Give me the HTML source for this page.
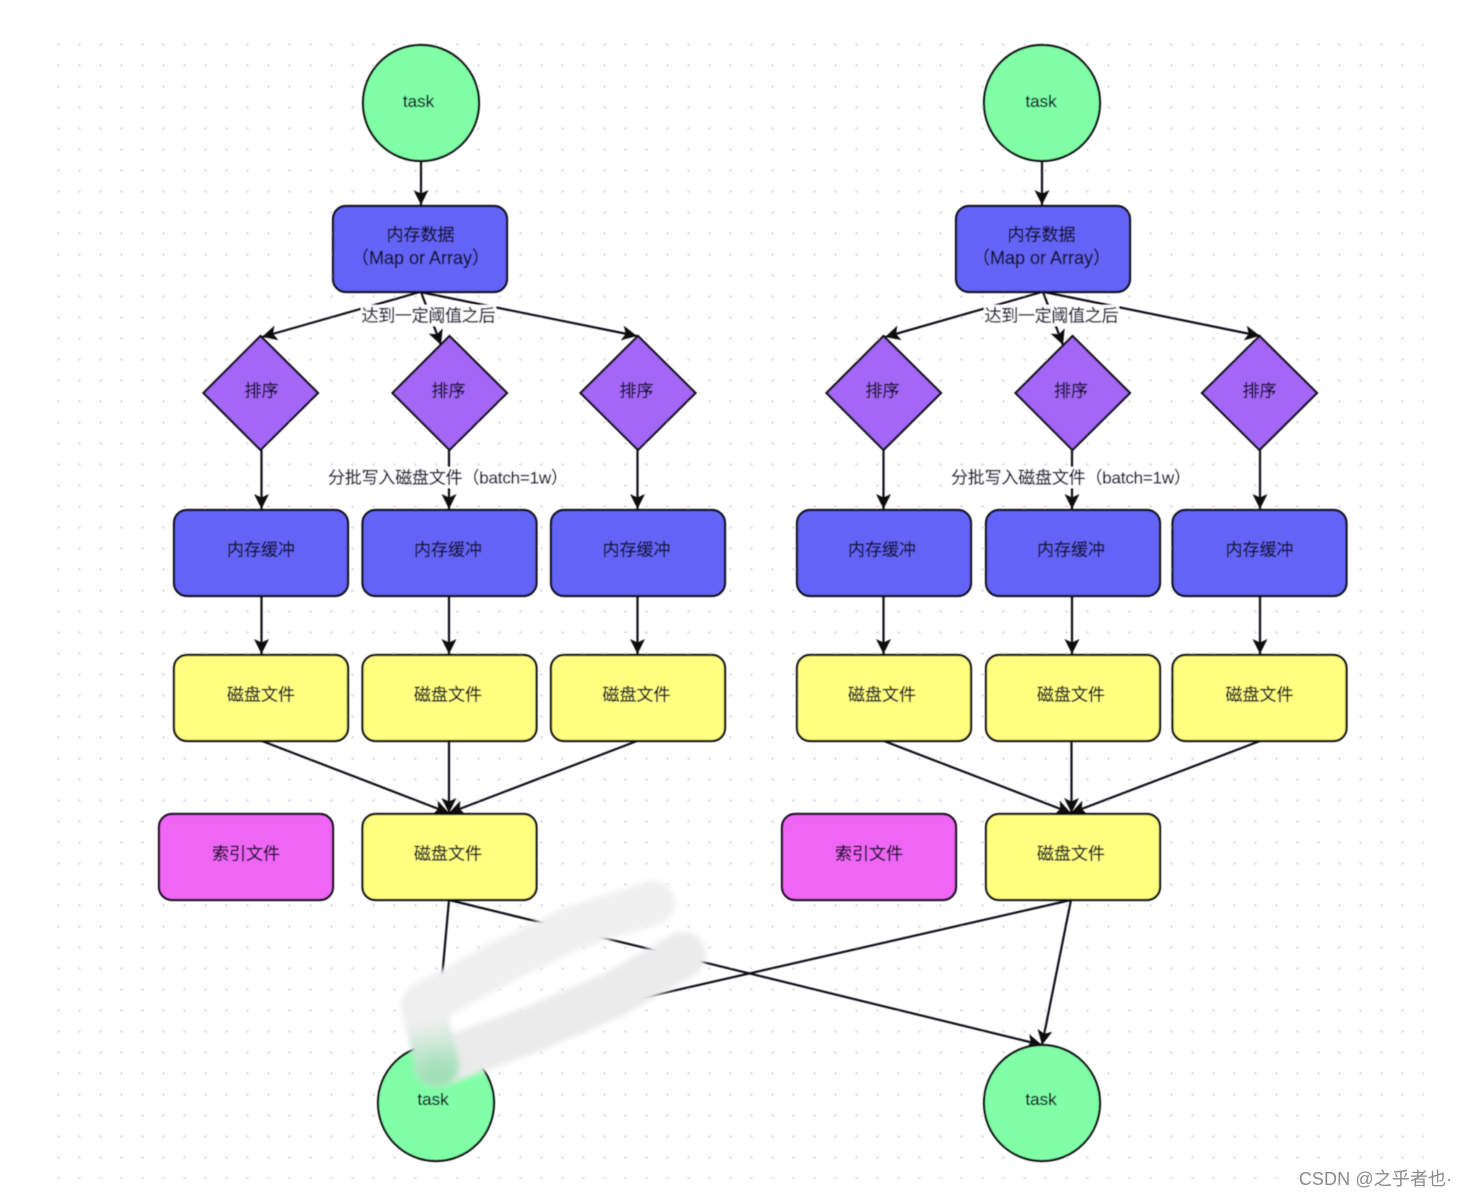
<!DOCTYPE html>
<html><head><meta charset="utf-8">
<style>
html,body{margin:0;padding:0;background:#fff;width:1466px;height:1198px;overflow:hidden}
svg{display:block}
text{font-family:"Liberation Sans","Noto Sans CJK SC",sans-serif;font-size:17px;fill:#12122a;stroke:#12122a;stroke-width:0.25;text-anchor:middle;dominant-baseline:central}
.s{stroke:#111118;stroke-width:2.2}
.l{stroke:#111118;stroke-width:2.2;fill:none;marker-end:url(#a)}
.b{fill:#6363f5}.y{fill:#ffff80}.p{fill:#a366f5}.g{fill:#80ffa6}.m{fill:#ef66f5}
</style></head><body>
<svg width="1466" height="1198" viewBox="0 0 1466 1198" xmlns="http://www.w3.org/2000/svg">
<defs>
<pattern id="d" x="58" y="44" width="21" height="21" patternUnits="userSpaceOnUse"><circle cx="0.5" cy="0.5" r="1.2" fill="#d8d8d8"/><circle cx="21.5" cy="0.5" r="1.2" fill="#d8d8d8"/><circle cx="0.5" cy="21.5" r="1.2" fill="#d8d8d8"/><circle cx="21.5" cy="21.5" r="1.2" fill="#d8d8d8"/></pattern>
<marker id="a" markerUnits="userSpaceOnUse" markerWidth="17" markerHeight="16" refX="15" refY="7.5" orient="auto"><path d="M15,7.500 L0,0 L3.500,7.500 L0,15 Z" fill="#0c0c0c"/></marker>
<filter id="bl" x="-5%" y="-5%" width="110%" height="110%"><feGaussianBlur stdDeviation="0.55"/></filter>
<filter id="sm" x="-20%" y="-20%" width="140%" height="140%"><feGaussianBlur stdDeviation="3"/></filter>
<filter id="sg" x="-100%" y="-100%" width="300%" height="300%"><feGaussianBlur stdDeviation="9"/></filter>
<linearGradient id="gr" gradientUnits="userSpaceOnUse" x1="430" y1="1020" x2="440" y2="1078"><stop offset="0" stop-color="#efefef"/><stop offset="1" stop-color="#a4dfba"/></linearGradient>
</defs>
<rect width="1466" height="1198" fill="#fff"/>
<g filter="url(#bl)">
<rect x="57" y="43" width="1367" height="1136" fill="url(#d)"/>

<!-- left connectors -->
<path class="l" d="M421,161V205"/>
<path class="l" d="M420,292L262,337"/>
<path class="l" d="M421,292L441,345"/>
<path class="l" d="M420,292L637,336"/>
<path class="l" d="M261.500,450V509"/>
<path class="l" d="M449,450V509"/>
<path class="l" d="M637.500,450V509"/>
<path class="l" d="M261.500,596V654"/>
<path class="l" d="M449,596V654"/>
<path class="l" d="M637.500,596V654"/>
<path class="l" d="M262,741L449,813"/>
<path class="l" d="M449,741V813"/>
<path class="l" d="M637,741L449,813"/>
<!-- right connectors -->
<path class="l" d="M1042,161V205"/>
<path class="l" d="M1042,292L885,337"/>
<path class="l" d="M1043,292L1063,345"/>
<path class="l" d="M1044,292L1260,336"/>
<path class="l" d="M883.500,450V509"/>
<path class="l" d="M1072,450V509"/>
<path class="l" d="M1260,450V509"/>
<path class="l" d="M883.500,596V654"/>
<path class="l" d="M1072,596V654"/>
<path class="l" d="M1260,596V654"/>
<path class="l" d="M884,741L1071,813"/>
<path class="l" d="M1071.500,741V813"/>
<path class="l" d="M1260,741L1071,813"/>
<!-- crossing -->
<path class="l" d="M449,900L436,1045"/>
<path class="l" d="M449,900L1042,1045"/>
<path class="l" d="M1071,900L436,1045"/>
<path class="l" d="M1071,900L1042,1045"/>

<!-- circles -->
<circle class="g s" cx="421" cy="103" r="58"/>
<circle class="g s" cx="1042" cy="103" r="58"/>
<circle class="g s" cx="436" cy="1103" r="58"/>
<circle class="g s" cx="1042" cy="1103" r="58"/>

<!-- top rects -->
<rect class="b s" x="333" y="206" width="174" height="86" rx="13"/>
<rect class="b s" x="956" y="206" width="174" height="86" rx="13"/>

<!-- diamonds -->
<path class="p s" d="M260.500,336L318,393L260.500,450L203.500,393Z"/>
<path class="p s" d="M449.500,336L507,393L449.500,450L392.500,393Z"/>
<path class="p s" d="M638,336L695.500,393L638,450L580.500,393Z"/>
<path class="p s" d="M883.500,336L941,393L883.500,450L826.500,393Z"/>
<path class="p s" d="M1072.500,336L1130,393L1072.500,450L1015.500,393Z"/>
<path class="p s" d="M1259.500,336L1317,393L1259.500,450L1202,393Z"/>

<!-- buffers -->
<rect class="b s" x="174" y="510" width="174" height="86" rx="13"/>
<rect class="b s" x="362.500" y="510" width="174" height="86" rx="13"/>
<rect class="b s" x="551" y="510" width="174" height="86" rx="13"/>
<rect class="b s" x="797" y="510" width="174" height="86" rx="13"/>
<rect class="b s" x="986" y="510" width="174" height="86" rx="13"/>
<rect class="b s" x="1172.500" y="510" width="174" height="86" rx="13"/>

<!-- files -->
<rect class="y s" x="174" y="655" width="174" height="86" rx="13"/>
<rect class="y s" x="362.500" y="655" width="174" height="86" rx="13"/>
<rect class="y s" x="551" y="655" width="174" height="86" rx="13"/>
<rect class="y s" x="797" y="655" width="174" height="86" rx="13"/>
<rect class="y s" x="986" y="655" width="174" height="86" rx="13"/>
<rect class="y s" x="1172.500" y="655" width="174" height="86" rx="13"/>

<!-- merged and index -->
<rect class="m s" x="159" y="814" width="174" height="86" rx="13"/>
<rect class="y s" x="362.500" y="814" width="174" height="86" rx="13"/>
<rect class="m s" x="782" y="814" width="174" height="86" rx="13"/>
<rect class="y s" x="986" y="814" width="174" height="86" rx="13"/>

<!-- label backgrounds -->
<rect x="361" y="305" width="135" height="21" fill="#fff"/>
<rect x="984" y="305" width="135" height="21" fill="#fff"/>
<rect x="328" y="467" width="231" height="21" fill="#fff"/>
<rect x="951" y="467" width="231" height="21" fill="#fff"/>

<!-- text -->
<text x="418.500" y="101.500">task</text>
<text x="1041" y="101.500">task</text>
<text x="433" y="1099.500">task</text>
<text x="1041" y="1099.500">task</text>
<text x="420.500" y="235">内存数据</text>
<text x="420.500" y="258" style="font-size:18px">（Map or Array）</text>
<text x="1041.500" y="235">内存数据</text>
<text x="1041.500" y="258" style="font-size:18px">（Map or Array）</text>
<text x="428.500" y="316" textLength="134">达到一定阈值之后</text>
<text x="1051.500" y="316" textLength="134">达到一定阈值之后</text>
<text x="261.500" y="391">排序</text><text x="448.500" y="391">排序</text><text x="636.500" y="391">排序</text>
<text x="882.500" y="391">排序</text><text x="1071" y="391">排序</text><text x="1259.500" y="391">排序</text>
<text x="448" y="478" textLength="240">分批写入磁盘文件（batch=1w）</text>
<text x="1071" y="478" textLength="240">分批写入磁盘文件（batch=1w）</text>
<text x="261" y="550">内存缓冲</text><text x="448" y="550">内存缓冲</text><text x="636.500" y="550">内存缓冲</text>
<text x="882" y="550">内存缓冲</text><text x="1071" y="550">内存缓冲</text><text x="1259.500" y="550">内存缓冲</text>
<text x="261" y="695">磁盘文件</text><text x="448" y="695">磁盘文件</text><text x="636.500" y="695">磁盘文件</text>
<text x="882" y="695">磁盘文件</text><text x="1071" y="695">磁盘文件</text><text x="1259.500" y="695">磁盘文件</text>
<text x="246" y="854">索引文件</text><text x="448" y="854">磁盘文件</text>
<text x="869" y="854">索引文件</text><text x="1071" y="854">磁盘文件</text>
</g>

<!-- smear -->
<polygon points="449,1012 456,1035 525,1012 475,1000" fill="#fff"/>
<g filter="url(#sm)" fill="none" stroke-linecap="round" stroke-linejoin="round">
<path d="M653,903L573,928L500,963L423,1005" stroke="#f0f0f0" stroke-width="44"/>
<path d="M683,955L613,995L533,1029L437,1064" stroke="#ebebeb" stroke-width="46"/>
<path d="M423,1005L437,1064" stroke="url(#gr)" stroke-width="44"/>
</g>
<circle cx="437" cy="1070" r="17" fill="#94deae" opacity="0.5" filter="url(#sg)"/>
<text x="1375.500" y="1179" style="font-size:18px;fill:#8a8a8a;stroke:none;letter-spacing:0.1px">CSDN @之乎者也·</text>
</svg>
</body></html>
